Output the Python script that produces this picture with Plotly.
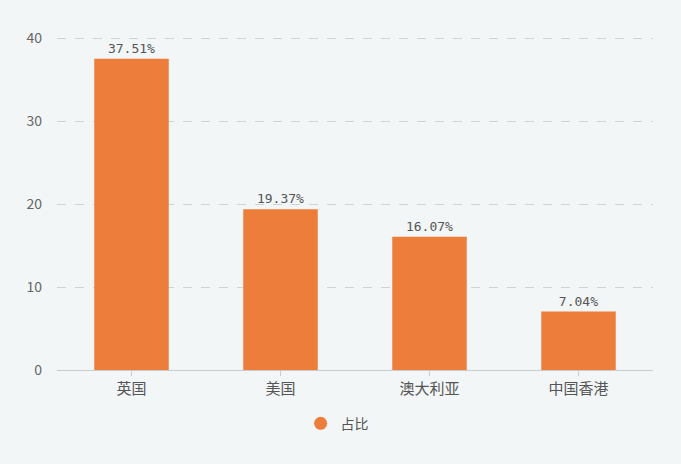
import plotly.graph_objects as go

regions = ["英国", "美国", "澳大利亚", "中国香港"]
shares = [37.51, 19.37, 16.07, 7.04]
share_labels = ["37.51%", "19.37%", "16.07%", "7.04%"]
series_name = "占比"
y_ticks = [0, 10, 20, 30, 40]

BAR = "#ed7d3b"
BG = "#f3f6f7"
FONT = "Noto Sans CJK SC"

fig = go.Figure()
fig.add_trace(
    go.Bar(
        x=regions,
        y=shares,
        text=share_labels,
        textposition="outside",
        textfont=dict(size=13, color="#555", family="DejaVu Sans Mono"),
        marker=dict(color=BAR, line=dict(width=0)),
        width=0.5,
        cliponaxis=False,
        showlegend=False,
        name=series_name,
    )
)
# legend entry with a round marker, like the original
fig.add_trace(
    go.Scatter(
        x=[None],
        y=[None],
        mode="markers",
        marker=dict(color=BAR, size=13, symbol="circle"),
        name=series_name,
        showlegend=True,
    )
)

fig.update_layout(
    width=681,
    height=464,
    margin=dict(l=57, r=28, t=34, b=94),
    paper_bgcolor=BG,
    plot_bgcolor=BG,
    font=dict(family=FONT, size=13, color="#666"),
    bargap=0.5,
    legend=dict(
        orientation="h",
        x=0.47,
        xanchor="center",
        y=-0.16,
        yanchor="middle",
        font=dict(size=14, color="#555"),
        bgcolor="rgba(0,0,0,0)",
    ),
    xaxis=dict(
        showgrid=False,
        showline=True,
        linecolor="#c8cccf",
        linewidth=1,
        ticks="outside",
        ticklen=5,
        tickcolor="#c8cccf",
        tickfont=dict(size=15, color="#555"),
        zeroline=False,
    ),
    yaxis=dict(
        range=[0, 40.5],
        tickvals=y_ticks,
        showgrid=True,
        gridcolor="#cfd3d6",
        griddash="dash",
        gridwidth=1,
        zeroline=False,
        showline=False,
        ticks="",
        ticklabelstandoff=14,
        tickfont=dict(size=14, color="#666"),
    ),
)

fig.write_html(
    "out.html",
    config={"displayModeBar": False},
    post_script="document.body.style.margin='0px';",
)
